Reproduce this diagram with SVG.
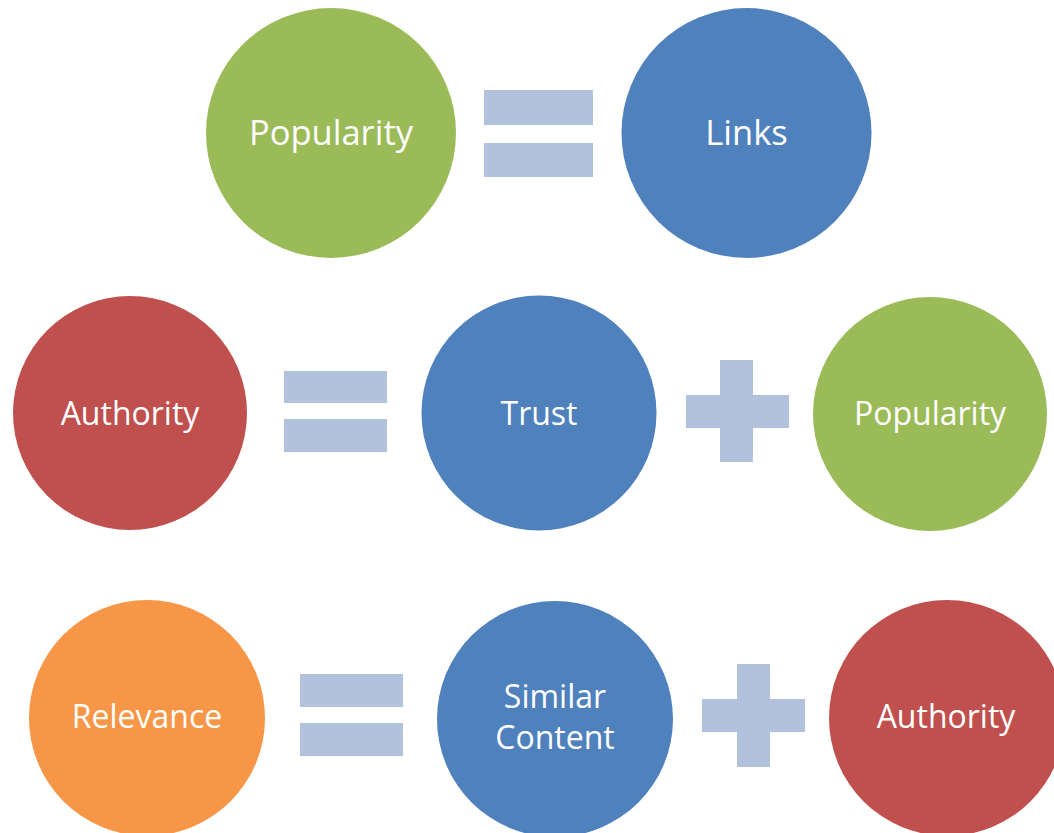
<svg xmlns="http://www.w3.org/2000/svg" width="1054" height="833" viewBox="0 0 1054 833">
<style>
.lbl{font-family:"Open Sans","Liberation Sans",sans-serif;fill:#ffffff;text-anchor:middle}
.big{font-size:34.5px}
.med{font-size:32px}
.op{fill:#B2C2DD}
.green{fill:#9BBB59}
.blue{fill:#4F81BD}
.red{fill:#C0504D}
.orange{fill:#F79646}
</style>
<rect width="1054" height="833" fill="#ffffff"/>
<g id="n-popularity1">
<circle class="green" cx="331" cy="133" r="125"/>
<text class="lbl big" x="331" y="145">Popularity</text>
</g>
<g id="n-links">
<circle class="blue" cx="746.5" cy="133" r="125"/>
<text class="lbl big" x="746.5" y="145">Links</text>
</g>
<g id="n-authority1">
<circle class="red" cx="130" cy="413" r="117"/>
<text class="lbl med" x="130" y="425">Authority</text>
</g>
<g id="n-trust">
<circle class="blue" cx="539" cy="413" r="117.5"/>
<text class="lbl med" x="539" y="425">Trust</text>
</g>
<g id="n-popularity2">
<circle class="green" cx="930" cy="414" r="117"/>
<text class="lbl med" x="930" y="425">Popularity</text>
</g>
<g id="n-relevance">
<circle class="orange" cx="147" cy="718" r="118"/>
<text class="lbl med" x="147" y="728">Relevance</text>
</g>
<g id="n-similar">
<circle class="blue" cx="555" cy="719" r="118"/>
<text class="lbl med" x="555" y="708">Similar</text>
<text class="lbl med" x="555" y="749">Content</text>
</g>
<g id="n-authority2">
<circle class="red" cx="947" cy="718" r="118"/>
<text class="lbl med" x="946" y="728">Authority</text>
</g>
<g id="connectors">
<g id="eq1">
<rect class="op" x="484" y="90" width="109" height="35"/>
<rect class="op" x="484" y="143" width="109" height="34"/>
</g>
<g id="eq2">
<rect class="op" x="284" y="371" width="103" height="32"/>
<rect class="op" x="284" y="419" width="103" height="33"/>
</g>
<g id="plus1">
<rect class="op" x="686" y="395" width="103" height="33"/>
<rect class="op" x="720" y="360" width="33" height="102"/>
</g>
<g id="eq3">
<rect class="op" x="300" y="674" width="103" height="33"/>
<rect class="op" x="300" y="723" width="103" height="33"/>
</g>
<g id="plus2">
<rect class="op" x="702" y="699" width="103" height="33"/>
<rect class="op" x="737" y="664" width="33" height="103"/>
</g>
</g>
</svg>
